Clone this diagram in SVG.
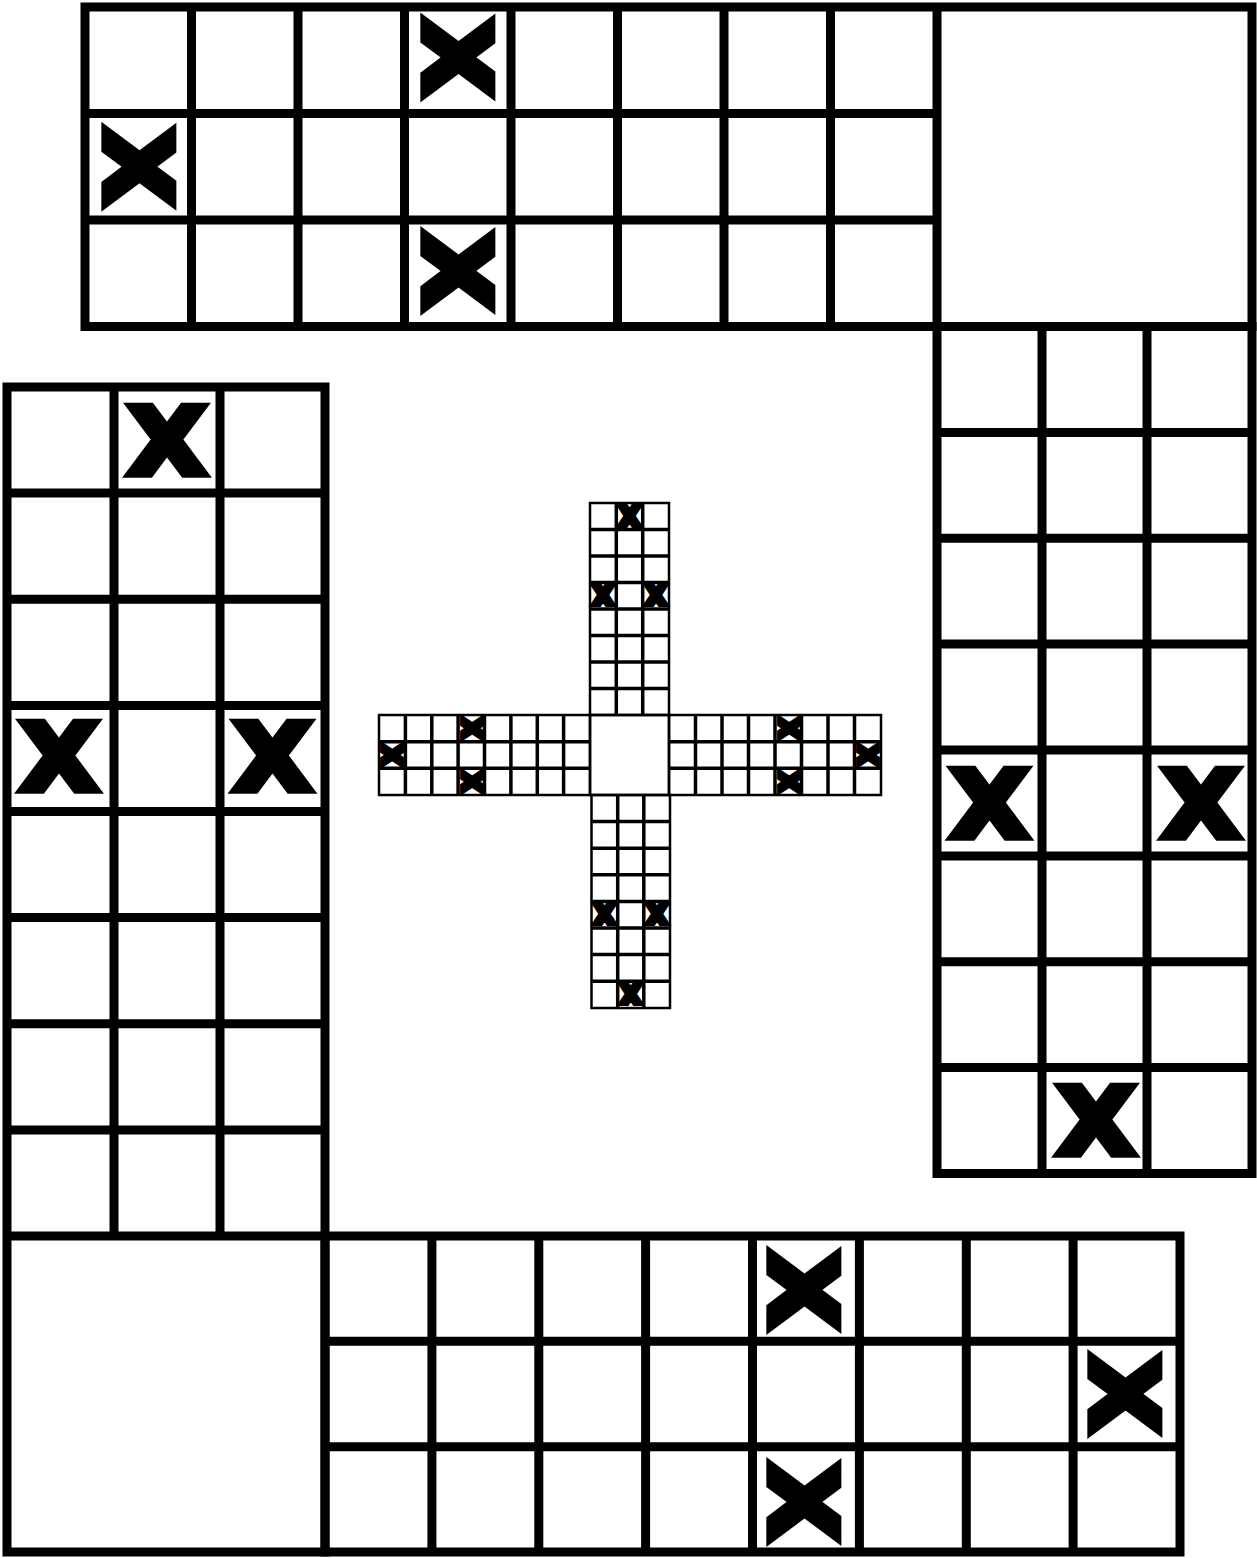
<svg xmlns="http://www.w3.org/2000/svg" width="1257" height="1558" viewBox="0 0 1257 1558">
<style>
.g{fill:none;stroke:#000;stroke-width:9}
.m{fill:none;stroke:#000;stroke-width:3.5}
.mo{fill:none;stroke:#000;stroke-width:2.5}
.x{font-family:"DejaVu Sans","Liberation Sans",sans-serif;font-weight:bold;font-size:100px;text-anchor:middle;fill:#000;stroke:#000;stroke-width:8;stroke-linejoin:miter}
.mx{font-family:"DejaVu Sans","Liberation Sans",sans-serif;font-weight:bold;font-size:24px;text-anchor:middle;fill:#000;stroke:#000;stroke-width:6}
</style>
<rect width="1257" height="1558" fill="#fff"/>
<g id="top-arm">
<rect class="g" x="85" y="7" width="1167" height="319.5"/>
<path class="g" d="M191.5 7V326.5M298 7V326.5M404.5 7V326.5M511 7V326.5M617.5 7V326.5M724 7V326.5M830.5 7V326.5M937 7V326.5M85 113.5H937M85 220H937"/>
<text class="x" transform="translate(457.75 57.5) rotate(90) scale(1.02 0.92)" y="36.5">X</text>
<text class="x" transform="translate(138.25 166.75) rotate(90) scale(1.02 0.92)" y="36.5">X</text>
<text class="x" transform="translate(457.75 271) rotate(90) scale(1.02 0.92)" y="36.5">X</text>
</g>
<g id="right-arm">
<rect class="g" x="937" y="326.5" width="315" height="847"/>
<path class="g" d="M1042 326.5V1173.5M1147 326.5V1173.5M937 432.4H1252M937 538.3H1252M937 644.1H1252M937 750H1252M937 855.9H1252M937 961.8H1252M937 1067.6H1252"/>
<text class="x" transform="translate(989.5 803) scale(1.02 0.92)" y="36.5">X</text>
<text class="x" transform="translate(1201 803) scale(1.02 0.92)" y="36.5">X</text>
<text class="x" transform="translate(1096 1120.5) scale(1.02 0.92)" y="36.5">X</text>
</g>
<g id="left-arm">
<rect class="g" x="7" y="387" width="318" height="1165"/>
<path class="g" d="M114 387V1236M220 387V1236M7 493.1H325M7 599.3H325M7 705.4H325M7 811.5H325M7 917.6H325M7 1023.8H325M7 1129.9H325M7 1236H325"/>
<text class="x" transform="translate(167 440) scale(1.02 0.92)" y="36.5">X</text>
<text class="x" transform="translate(59 756) scale(1.02 0.92)" y="36.5">X</text>
<text class="x" transform="translate(272.5 756) scale(1.02 0.92)" y="36.5">X</text>
</g>
<g id="bottom-arm">
<rect class="g" x="325" y="1236" width="855" height="316"/>
<path class="g" d="M431.9 1236V1552M538.8 1236V1552M645.6 1236V1552M752.5 1236V1552M859.4 1236V1552M966.3 1236V1552M1073.1 1236V1552M325 1341.3H1180M325 1446.7H1180"/>
<text class="x" transform="translate(804 1290) rotate(90) scale(1.02 0.92)" y="36.5">X</text>
<text class="x" transform="translate(804 1502) rotate(90) scale(1.02 0.92)" y="36.5">X</text>
<text class="x" transform="translate(1125 1394) rotate(90) scale(1.02 0.92)" y="36.5">X</text>
</g>
<g id="mini-board">
<rect class="mo" x="590" y="715" width="79" height="80"/>
<g id="mini-top">
<rect class="mo" x="590" y="503" width="79" height="212"/>
<path class="m" d="M616.3 503V715M642.7 503V715M590 529.5H669M590 556H669M590 582.5H669M590 609H669M590 635.5H669M590 662H669M590 688.5H669"/>
<text class="mx" transform="translate(629.5 516.2)" y="8.7">X</text>
<text class="mx" transform="translate(603.1 595.7)" y="8.7">X</text>
<text class="mx" transform="translate(655.9 595.7)" y="8.7">X</text>
</g>
<g id="mini-bottom">
<rect class="mo" x="591.5" y="795" width="78.5" height="213"/>
<path class="m" d="M617.7 795V1008M643.8 795V1008M591.5 821.6H670M591.5 848.2H670M591.5 874.8H670M591.5 901.4H670M591.5 928H670M591.5 954.6H670M591.5 981.2H670"/>
<text class="mx" transform="translate(604.6 914.7)" y="8.7">X</text>
<text class="mx" transform="translate(656.9 914.7)" y="8.7">X</text>
<text class="mx" transform="translate(630.8 994.6)" y="8.7">X</text>
</g>
<g id="mini-left">
<rect class="mo" x="379" y="715" width="211" height="80"/>
<path class="m" d="M405.4 715V795M431.8 715V795M458.1 715V795M484.5 715V795M510.9 715V795M537.3 715V795M563.6 715V795M379 741.7H590M379 768.3H590"/>
<text class="mx" transform="translate(392.2 755) rotate(90)" y="8.7">X</text>
<text class="mx" transform="translate(471.3 728.3) rotate(90)" y="8.7">X</text>
<text class="mx" transform="translate(471.3 781.7) rotate(90)" y="8.7">X</text>
</g>
<g id="mini-right">
<rect class="mo" x="669" y="715" width="212" height="80"/>
<path class="m" d="M695.5 715V795M722 715V795M748.5 715V795M775 715V795M801.5 715V795M828 715V795M854.5 715V795M669 741.7H881M669 768.3H881"/>
<text class="mx" transform="translate(788.25 728.3) rotate(90)" y="8.7">X</text>
<text class="mx" transform="translate(788.25 781.7) rotate(90)" y="8.7">X</text>
<text class="mx" transform="translate(867.75 755) rotate(90)" y="8.7">X</text>
</g>
</g>
</svg>
